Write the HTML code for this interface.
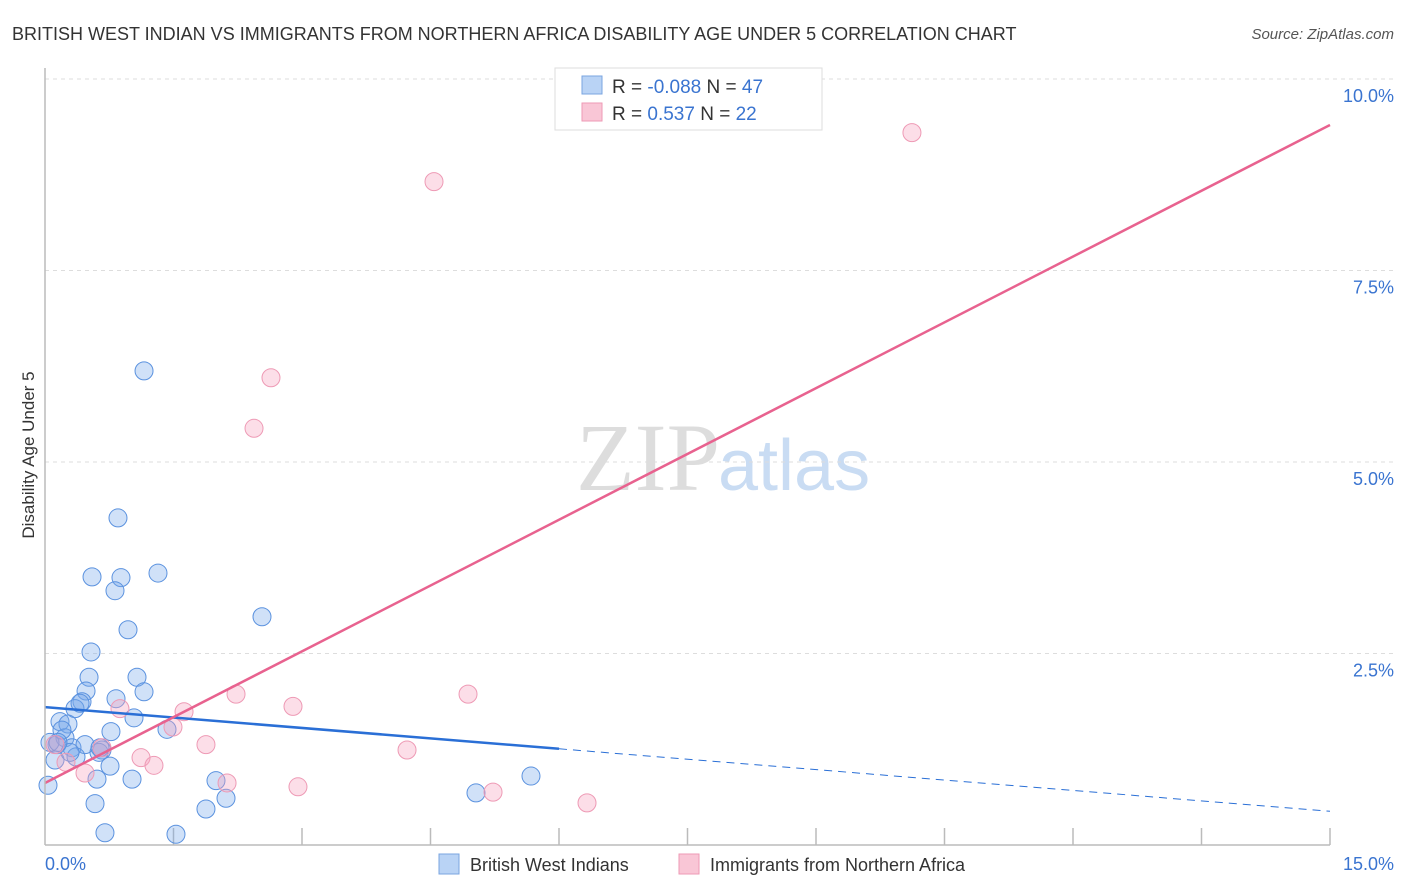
<!DOCTYPE html>
<html><head><meta charset="utf-8"><style>
body{margin:0;background:#fff;font-family:"Liberation Sans",sans-serif;}
#c{position:absolute;left:0;top:0;}
</style></head><body>
<svg id="c" width="1406" height="892">
<text x="12" y="40" font-size="18" fill="#333">BRITISH WEST INDIAN VS IMMIGRANTS FROM NORTHERN AFRICA DISABILITY AGE UNDER 5 CORRELATION CHART</text>
<text x="1394" y="39" font-size="15" fill="#555" font-style="italic" text-anchor="end">Source: ZipAtlas.com</text>
<text x="720" y="490" font-size="96" fill="#ddd" text-anchor="end" font-family="Liberation Serif">ZIP</text>
<text x="718" y="490" font-size="72" fill="#c9dcf3">atlas</text>
<g id="grid"></g><g id="pts"></g><g id="lines"></g>
<line x1="45" y1="68" x2="45" y2="845" stroke="#bbb" stroke-width="1.5"/>
<line x1="45" y1="845" x2="1330" y2="845" stroke="#bbb" stroke-width="1.5"/>
<text x="34" y="455" font-size="17" fill="#333" text-anchor="middle" transform="rotate(-90 34 455)">Disability Age Under 5</text>
<text x="45" y="870" font-size="18" fill="#3a74d0">0.0%</text>
<text x="1394" y="870" font-size="18" fill="#3a74d0" text-anchor="end">15.0%</text>
<g>
<rect x="555" y="68" width="267" height="62" fill="#fff" stroke="#ddd"/>
<rect x="582" y="76" width="20" height="18" fill="#b9d3f5" stroke="#7aa5e0"/>
<rect x="582" y="103" width="20" height="18" fill="#f9c6d6" stroke="#ee9ab5"/>
<text x="612" y="93" font-size="19" fill="#333">R = <tspan fill="#3a74d0">-0.088</tspan>   N = <tspan fill="#3a74d0">47</tspan></text>
<text x="612" y="120" font-size="19" fill="#333">R =   <tspan fill="#3a74d0">0.537</tspan>   N = <tspan fill="#3a74d0">22</tspan></text>
</g>
<g>
<rect x="439" y="854" width="20" height="20" fill="#b9d3f5" stroke="#7aa5e0"/>
<text x="470" y="871" font-size="18" fill="#333">British West Indians</text>
<rect x="679" y="854" width="20" height="20" fill="#f9c6d6" stroke="#ee9ab5"/>
<text x="710" y="871" font-size="18" fill="#333">Immigrants from Northern Africa</text>
</g>
</svg>
<script>
const yTicks=[10,7.5,5,2.5];
const yTickLabels=["10.0%","7.5%","5.0%","2.5%"];
const xTicks=[1.5,3,4.5,6,7.5,9,10.5,12,13.5,15];
const blueX=[1.156,0.852,0.549,0.887,1.319,0.817,0.969,2.533,0.537,0.514,1.074,0.479,0.829,1.156,0.432,0.350,1.039,0.175,0.268,0.770,1.424,0.140,0.233,0.058,0.315,0.467,0.665,0.630,0.362,0.759,0.035,0.607,1.016,1.996,0.584,2.113,1.879,5.031,5.673,0.700,1.529,0.117,0.198,0.409,0.292,0.642,0.152];
const blueY=[6.19,4.27,3.50,3.49,3.55,3.32,2.81,2.98,2.52,2.19,2.19,2.01,1.91,2.00,1.87,1.78,1.66,1.61,1.58,1.48,1.51,1.31,1.40,1.34,1.27,1.31,1.24,1.21,1.15,1.03,0.78,0.86,0.86,0.84,0.54,0.61,0.47,0.68,0.90,0.16,0.14,1.11,1.50,1.85,1.21,1.27,1.34];
const pinkX=[10.12,4.541,2.638,2.440,2.230,4.938,2.895,1.623,0.875,1.494,1.879,4.226,1.121,1.272,0.665,0.245,0.467,2.125,2.953,5.230,6.327,0.117];
const pinkY=[9.30,8.66,6.10,5.44,1.97,1.97,1.81,1.74,1.78,1.54,1.31,1.24,1.14,1.04,1.27,1.08,0.94,0.81,0.76,0.69,0.55,1.31];
const blueTrend=[1.80,0.44];const blueSolidEnd=6.0;
const pinkTrend=[0.81,9.40];
const X=v=>45+v/15*1285, Y=v=>845-v*76.6;
const NS="http://www.w3.org/2000/svg";
function mk(p,t,a){const e=document.createElementNS(NS,t);for(const k in a)e.setAttribute(k,a[k]);p.appendChild(e);return e;}
const g=document.getElementById('grid'),pg=document.getElementById('pts'),lg=document.getElementById('lines');
yTicks.forEach((t,i)=>{
 const l=mk(g,'line',{x1:45,x2:1395,y1:Y(t),y2:Y(t),stroke:'#ddd','stroke-dasharray':'4,4'});
 
 
 const tx=mk(g,'text',{x:1394,y:Y(t)+23,'font-size':18,fill:'#3a74d0','text-anchor':'end'});tx.textContent=yTickLabels[i];
 
 
});
xTicks.forEach(t=>{
 const l=mk(g,'line',{x1:X(t),x2:X(t),y1:828,y2:845,stroke:'#bbb','stroke-width':1.5});
 
 
});
blueX.forEach((x,i)=>{
 const c=mk(pg,'circle',{cx:X(x),cy:Y(blueY[i]),r:9,fill:'rgba(120,170,235,0.35)',stroke:'#5b92df','stroke-width':1});
 
 
});
pinkX.forEach((x,i)=>{
 const c=mk(pg,'circle',{cx:X(x),cy:Y(pinkY[i]),r:9,fill:'rgba(245,160,190,0.35)',stroke:'#ee9ab5','stroke-width':1});
 
 
});
const bAt=x=>blueTrend[0]+(blueTrend[1]-blueTrend[0])*x/15;
let l1=mk(lg,'line',{x1:X(0),y1:Y(bAt(0)),x2:X(blueSolidEnd),y2:Y(bAt(blueSolidEnd)),stroke:'#2a6fd6','stroke-width':2.5});


let l2=mk(lg,'line',{x1:X(blueSolidEnd),y1:Y(bAt(blueSolidEnd)),x2:X(15),y2:Y(bAt(15)),stroke:'#2a6fd6','stroke-width':1,'stroke-dasharray':'8,6'});


let l3=mk(lg,'line',{x1:X(0),y1:Y(pinkTrend[0]),x2:X(15),y2:Y(pinkTrend[1]),stroke:'#e8628f','stroke-width':2.5});


</script>
</body></html>
